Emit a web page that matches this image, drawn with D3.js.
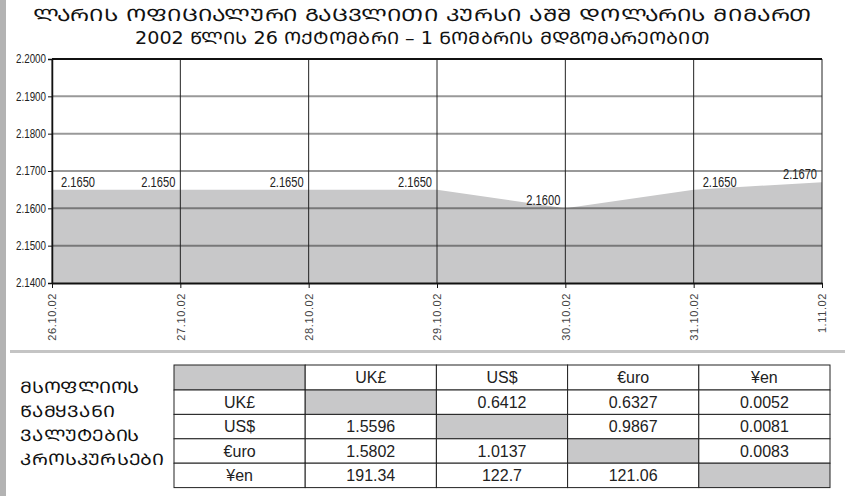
<!DOCTYPE html>
<html>
<head>
<meta charset="utf-8">
<script src="https://cdn.jsdelivr.net/npm/d3@7"></script>
<style>
  body { margin: 0; background: #fff; }
  svg { display: block; }
</style>
</head>
<body>
<div id="chart"></div>
<script>
// chart data
var titleLines = ["ლარის ოფიციალური გაცვლითი კურსი აშშ დოლარის მიმართ",
                  "2002 წლის 26 ოქტომბრი – 1 ნომბრის მდგომარეობით"];
var dates = ["26.10.02", "27.10.02", "28.10.02", "29.10.02", "30.10.02", "31.10.02", "1.11.02"];
var rates = [2.1650, 2.1650, 2.1650, 2.1650, 2.1600, 2.1650, 2.1670];
var yTicks = [2.14, 2.15, 2.16, 2.17, 2.18, 2.19, 2.20];

// cross rates table
var sideText = ["მსოფლიოს", "წამყვანი", "ვალუტების", "კროსკურსები"];
var currencies = ["UK£", "US$", "€uro", "¥en"];
var crossRates = [
  [null, "0.6412", "0.6327", "0.0052"],
  ["1.5596", null, "0.9867", "0.0081"],
  ["1.5802", "1.0137", null, "0.0083"],
  ["191.34", "122.7", "121.06", null]
];

var W = 848, H = 496;
var margin = {top: 59, left: 52};
var width = 770, height = 224;
var fillGrey = "#c8c8c9";

// mkhedruli -> mtavruli (the original uses a capitals font)
function caps(s) {
  return s.replace(/[\u10D0-\u10FA]/g, function(c) {
    return String.fromCharCode(c.charCodeAt(0) - 0x10D0 + 0x1C90);
  });
}

var svg = d3.select("#chart").append("svg")
  .attr("width", W).attr("height", H);

svg.append("rect").attr("width", W).attr("height", H).attr("fill", "#fff");
// grey left edge
svg.append("rect").attr("x", 0).attr("y", 0).attr("width", 6).attr("height", H).attr("fill", "#b3b3b3");

// title
var titleSpan = [[33, 812], [135, 710]];
svg.selectAll(".title").data(titleLines).enter().append("text")
  .attr("class", "title")
  .attr("x", function(d, i) { return titleSpan[i][0]; })
  .attr("y", function(d, i) { return 21 + i * 23; })
  .attr("textLength", function(d, i) { return titleSpan[i][1] - titleSpan[i][0]; })
  .attr("lengthAdjust", "spacingAndGlyphs")
  .style("font-family", "'DejaVu Sans', sans-serif")
  .style("font-size", "17px")
  .attr("fill", "#111")
  .text(function(d) { return caps(d); });

var g = svg.append("g").attr("transform", "translate(" + margin.left + "," + margin.top + ")");

var x = d3.scalePoint().domain(dates).range([0, width]);
var y = d3.scaleLinear().domain([2.14, 2.20]).range([height, 0]);

///////////////////////////////////////// area
g.append("path")
  .datum(rates)
  .attr("fill", fillGrey)
  .attr("d", d3.area()
    .x(function(d, i) { return x(dates[i]); })
    .y0(y(2.14))
    .y1(function(d) { return y(d); }));

// horizontal grid
g.selectAll(".hgrid").data(yTicks.slice(1, -1)).enter().append("line")
  .attr("x1", 0).attr("x2", width)
  .attr("y1", function(d) { return y(d); }).attr("y2", function(d) { return y(d); })
  .attr("stroke", "rgba(0,0,0,0.4)").attr("stroke-width", 2);

// vertical grid
g.selectAll(".vgrid").data(dates).enter().append("line")
  .attr("x1", function(d) { return x(d); }).attr("x2", function(d) { return x(d); })
  .attr("y1", 0).attr("y2", height)
  .attr("stroke", "#222").attr("stroke-width", 1);

// frame
g.append("line").attr("x1", 0).attr("x2", width).attr("y1", 0).attr("y2", 0)
  .attr("stroke", "#111").attr("stroke-width", 2);

///////////////////////////////////////// Y axis
var yAxis = g.append("g")
  .call(d3.axisLeft(y).tickValues(yTicks).tickSize(4).tickFormat(d3.format(".4f")));
yAxis.select(".domain").attr("stroke", "#111").attr("stroke-width", 1.5);
yAxis.selectAll(".tick line").attr("stroke", "#111");
yAxis.selectAll(".tick text")
  .attr("x", -6)
  .attr("textLength", 30).attr("lengthAdjust", "spacingAndGlyphs")
  .style("font-family", "'Liberation Sans', Arial, sans-serif")
  .style("font-size", "12px").attr("fill", "#222");

///////////////////////////////////////// X axis
var xAxis = g.append("g")
  .attr("transform", "translate(0," + height + ")")
  .call(d3.axisBottom(x).tickSize(5).tickSizeOuter(0));
xAxis.select(".domain").attr("stroke", "#111").attr("stroke-width", 2);
xAxis.selectAll(".tick line").attr("stroke", "#111");
xAxis.selectAll(".tick text")
  .attr("transform", "rotate(-90)")
  .attr("x", -10).attr("y", 0).attr("dy", "0.35em")
  .style("text-anchor", "end")
  .style("font-family", "'Liberation Sans', Arial, sans-serif")
  .style("font-size", "11px").style("letter-spacing", "0.6px")
  .attr("fill", "#444");

// value labels
function startAnchored(d, i) {
  return i === 0 || (i < rates.length - 1 && rates[i - 1] < d);
}
g.selectAll(".vlabel").data(rates).enter().append("text")
  .attr("class", "vlabel")
  .attr("x", function(d, i) { return x(dates[i]) + (startAnchored(d, i) ? 9 : -5); })
  .attr("y", function(d) { return y(d) - 3; })
  .attr("textLength", 34).attr("lengthAdjust", "spacingAndGlyphs")
  .style("text-anchor", function(d, i) { return startAnchored(d, i) ? "start" : "end"; })
  .style("font-family", "'Liberation Sans', Arial, sans-serif")
  .style("font-size", "14px").attr("fill", "#222")
  .text(function(d) { return d3.format(".4f")(d); });

// separator
svg.append("rect").attr("x", 10).attr("y", 350).attr("width", 835).attr("height", 3).attr("fill", "#c4c4c4");

///////////////////////////////////////// side text
var side = svg.selectAll(".side").data(sideText).enter().append("text")
  .attr("x", 20)
  .attr("y", function(d, i) { return 393 + i * 24; })
  .style("font-family", "'DejaVu Sans', sans-serif")
  .style("font-size", "16px").attr("fill", "#111")
  .text(function(d) { return caps(d); });
// the original capitals are wider than DejaVu's
side.attr("textLength", function() { return this.getComputedTextLength() * 1.18; })
  .attr("lengthAdjust", "spacingAndGlyphs");

///////////////////////////////////////// table
var tx = d3.scaleBand().domain(d3.range(5)).range([174, 830]);
var rowH = [25, 24.4, 24.4, 24.4, 24.4];
var rowY = [365];
for (var r = 1; r < 5; r++) rowY.push(rowY[r - 1] + rowH[r - 1]);

var cells = [];
for (var ri = 0; ri < 5; ri++) {
  for (var ci = 0; ci < 5; ci++) {
    var txt, grey = false;
    if (ri === 0 && ci === 0) { txt = ""; grey = true; }
    else if (ri === 0) txt = currencies[ci - 1];
    else if (ci === 0) txt = currencies[ri - 1];
    else {
      txt = crossRates[ri - 1][ci - 1];
      if (txt === null) { txt = ""; grey = true; }
    }
    cells.push({r: ri, c: ci, text: txt, grey: grey});
  }
}

var cell = svg.selectAll(".cell").data(cells).enter().append("g");
cell.append("rect")
  .attr("x", function(d) { return tx(d.c); })
  .attr("y", function(d) { return rowY[d.r]; })
  .attr("width", tx.bandwidth())
  .attr("height", function(d) { return rowH[d.r]; })
  .attr("fill", function(d) { return d.grey ? fillGrey : "#fff"; })
  .attr("stroke", "#222").attr("stroke-width", 1);
cell.append("text")
  .attr("x", function(d) { return tx(d.c) + tx.bandwidth() / 2; })
  .attr("y", function(d) { return rowY[d.r] + rowH[d.r] / 2; })
  .attr("dy", "0.36em")
  .style("text-anchor", "middle")
  .style("font-family", "'Liberation Sans', Arial, sans-serif")
  .style("font-size", "16px").attr("fill", "#222")
  .text(function(d) { return d.text; });
</script>
</body>
</html>
